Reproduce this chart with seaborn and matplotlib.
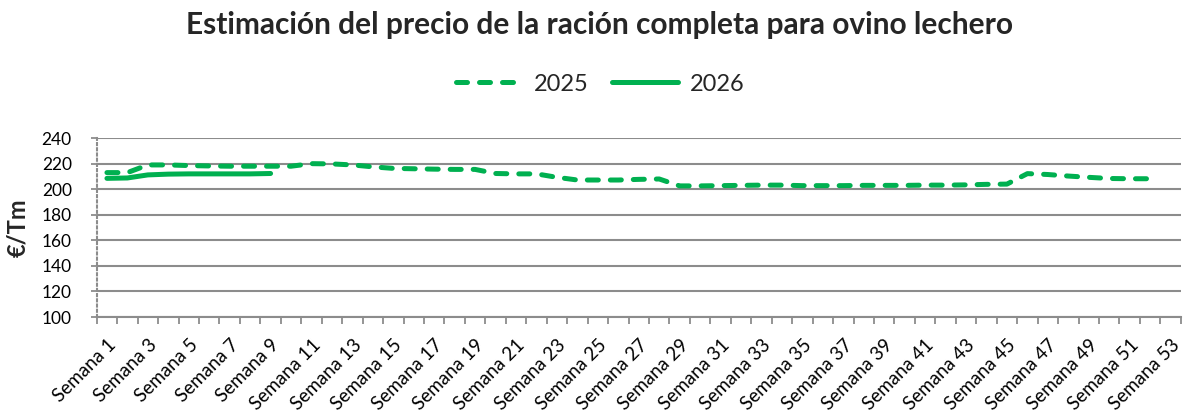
import numpy as np
import pandas as pd
import matplotlib
matplotlib.use("Agg")
import matplotlib.pyplot as plt
import seaborn as sns
from matplotlib.ticker import FixedLocator

# ---- data ----
semanas_2025 = list(range(1, 53))
precio_2025 = [213, 213, 219, 219, 218.5, 218.2, 218, 218, 218, 218,
               220, 219.8, 219, 217.5, 216.3, 216, 215.7, 215.5, 215.5, 212.3,
               212, 212, 209.3, 207.2, 207.2, 207.2, 207.7, 208, 202.6, 202.6,
               202.8, 203, 203.2, 203.2, 202.8, 202.8, 202.8, 203, 203, 203,
               203.2, 203.2, 203.4, 203.8, 204, 212.2, 211.5, 210.3, 209.3, 208.4,
               208.2, 208.2]
semanas_2026 = list(range(1, 10))
precio_2026 = [208.5, 208.8, 211.2, 211.8, 212, 212, 212, 212, 212.3]
n_semanas = 53
etiquetas_x = [f"Semana {i}" for i in range(1, n_semanas + 1, 2)]
ticks_y = [100, 120, 140, 160, 180, 200, 220, 240]

df = pd.concat([
    pd.DataFrame({"Semana": semanas_2025, "Precio": precio_2025, "Año": "2025"}),
    pd.DataFrame({"Semana": semanas_2026, "Precio": precio_2026, "Año": "2026"}),
], ignore_index=True)

sns.set_theme(style="white")
plt.rcParams["font.family"] = ["Lato", "DejaVu Sans"]

verde = "#00B050"
gris = "#8C8C8C"

fig = plt.figure(figsize=(12, 4.11), dpi=100)
ax = fig.add_axes([0.0806, 0.2287, 0.9034, 0.4353])

sns.lineplot(data=df, x="Semana", y="Precio", hue="Año", style="Año",
             palette={"2025": verde, "2026": verde},
             dashes={"2025": (2.2, 2.4), "2026": ""},
             linewidth=3.6, ax=ax,
             dash_capstyle="round", solid_capstyle="round")

ax.set_xlim(0.5, n_semanas + 0.5)
ax.set_ylim(100, 240)
ax.set_yticks(ticks_y)
ax.set_yticklabels([str(t) for t in ticks_y], fontsize=12.5, color="#000000")

ax.set_xticks(list(range(1, n_semanas + 1, 2)))
ax.set_xticklabels(etiquetas_x, rotation=45, ha="right", va="top",
                   rotation_mode="anchor", fontsize=13.5, color="#000000")
ax.xaxis.set_minor_locator(FixedLocator(np.arange(0.5, n_semanas + 1, 1.0)))
ax.tick_params(axis="x", which="major", length=0, pad=14)
ax.tick_params(axis="x", which="minor", length=5, width=1.3, color=gris, bottom=True)
ax.tick_params(axis="y", which="major", length=4, width=1.3, color=gris, left=True, pad=14)

ax.set_xlabel("")
ax.set_ylabel("€/Tm", fontsize=17, fontweight="bold", ha="center", va="center")
ax.yaxis.set_label_coords(-0.0726, 0.5)

ax.grid(axis="y", color=gris, linewidth=1.5)
ax.grid(axis="x", visible=False)
ax.set_axisbelow(True)
for s in ["top", "right"]:
    ax.spines[s].set_visible(False)
ax.spines["bottom"].set_color(gris)
ax.spines["bottom"].set_linewidth(1.5)
ax.spines["left"].set_color(gris)
ax.spines["left"].set_linewidth(1.5)
ax.spines["left"].set_linestyle((0, (1, 1.5)))

handles, labels = ax.get_legend_handles_labels()
ax.get_legend().remove()
for h in handles:
    h.set_linewidth(3.6)
    h.set_dash_capstyle("round")
    h.set_solid_capstyle("round")
fig.legend(handles, labels, loc="center", bbox_to_anchor=(0.5, 0.795), ncol=2,
           frameon=False, fontsize=17, handlelength=2.8, columnspacing=1.0,
           handletextpad=0.5)

fig.text(0.5, 0.938, "Estimación del precio de la ración completa para ovino lechero",
         ha="center", va="center", fontsize=21.5, fontweight="bold")

fig.savefig("out.png", dpi=100)
